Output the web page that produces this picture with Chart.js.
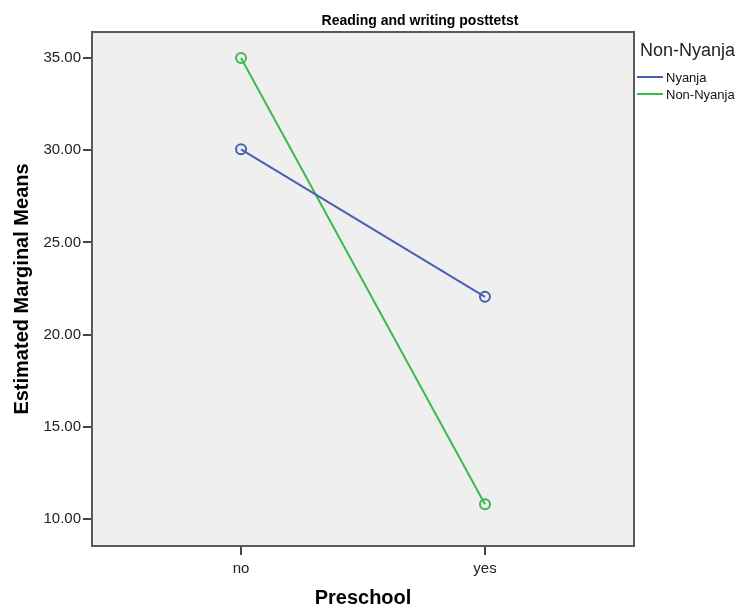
<!DOCTYPE html>
<html>
<head>
<meta charset="utf-8">
<script src="https://cdn.jsdelivr.net/npm/chart.js@4/dist/chart.umd.min.js"></script>
<style>
html,body{margin:0;padding:0;background:#fff;}
canvas{display:block;}
</style>
</head>
<body>
<canvas id="c" width="744" height="608"></canvas>
<script>
const categories = ['no', 'yes'];
const nyanja = [30.05, 22.05];
const nonNyanja = [35.0, 10.8];
const yTicks = [10, 15, 20, 25, 30, 35];
const seriesNames = ['Nyanja', 'Non-Nyanja'];
const colors = ['#4a5fb5', '#3cba4c'];

const FONT = '"Liberation Sans", Arial, sans-serif';

const toPts = arr => arr.map((v, i) => ({x: i, y: v}));

const decor = {
  id: 'decor',
  beforeDatasetsDraw(chart) {
    const {ctx, chartArea: a} = chart;
    ctx.save();
    ctx.fillStyle = '#efefef';
    ctx.fillRect(a.left, a.top, a.right - a.left, a.bottom - a.top);
    ctx.strokeStyle = '#5a5a5a';
    ctx.lineWidth = 2;
    ctx.strokeRect(a.left, a.top, a.right - a.left, a.bottom - a.top);
    ctx.restore();
  },
  afterDraw(chart) {
    const {ctx, chartArea: a} = chart;
    ctx.save();
    ctx.fillStyle = '#000';
    ctx.textAlign = 'center';
    ctx.textBaseline = 'middle';
    ctx.font = 'bold 14px ' + FONT;
    ctx.fillText('Reading and writing posttetst', 420, 21);
    ctx.font = 'bold 20px ' + FONT;
    ctx.fillText('Preschool', (a.left + a.right) / 2, 598);
    ctx.save();
    ctx.translate(22, (a.top + a.bottom) / 2);
    ctx.rotate(-Math.PI / 2);
    ctx.fillText('Estimated Marginal Means', 0, 0);
    ctx.restore();
    // legend
    ctx.textAlign = 'left';
    ctx.font = '18px ' + FONT;
    ctx.fillStyle = '#222';
    ctx.fillText('Non-Nyanja', 640, 51);
    ctx.font = '13px ' + FONT;
    seriesNames.forEach((n, i) => {
      const y = 77 + i * 17;
      ctx.strokeStyle = colors[i];
      ctx.lineWidth = 2;
      ctx.beginPath();
      ctx.moveTo(637, y);
      ctx.lineTo(663, y);
      ctx.stroke();
      ctx.fillStyle = '#111';
      ctx.fillText(n, 666, y + 1);
    });
    ctx.restore();
  }
};

new Chart(document.getElementById('c'), {
  type: 'line',
  data: {
    datasets: [
      {label: seriesNames[0], data: toPts(nyanja)},
      {label: seriesNames[1], data: toPts(nonNyanja)}
    ].map((d, i) => Object.assign(d, {
      borderColor: colors[i],
      backgroundColor: 'rgba(0,0,0,0)',
      pointBorderColor: colors[i],
      pointBackgroundColor: 'rgba(0,0,0,0)',
      pointRadius: 5,
      pointBorderWidth: 2,
      borderWidth: 2,
      tension: 0
    }))
  },
  options: {
    responsive: false,
    animation: false,
    devicePixelRatio: 1,
    layout: {padding: {left: 0, top: 32, right: 110, bottom: 0}},
    plugins: {legend: {display: false}, title: {display: false}, tooltip: {enabled: false}},
    scales: {
      x: {
        type: 'linear',
        min: -0.611,
        max: 1.611,
        afterBuildTicks: s => { s.ticks = categories.map((c, i) => ({value: i})); },
        afterFit: s => { s.height = 62; },
        ticks: {
          callback: v => categories[v] ?? '',
          font: {family: FONT, size: 15},
          color: '#222',
          padding: 5,
          maxRotation: 0,
          autoSkip: false
        },
        grid: {drawOnChartArea: false, drawTicks: true, tickLength: 9, color: '#444', lineWidth: 2},
        border: {display: false}
      },
      y: {
        min: 8.54,
        max: 36.41,
        afterBuildTicks: s => { s.ticks = yTicks.map(v => ({value: v})); },
        afterFit: s => { s.width = 92; },
        ticks: {
          callback: v => Number(v).toFixed(2),
          font: {family: FONT, size: 15},
          color: '#222',
          padding: 2,
          autoSkip: false
        },
        grid: {drawOnChartArea: false, drawTicks: true, tickLength: 9, color: '#444', lineWidth: 2},
        border: {display: false}
      }
    }
  },
  plugins: [decor]
});
</script>
</body>
</html>
